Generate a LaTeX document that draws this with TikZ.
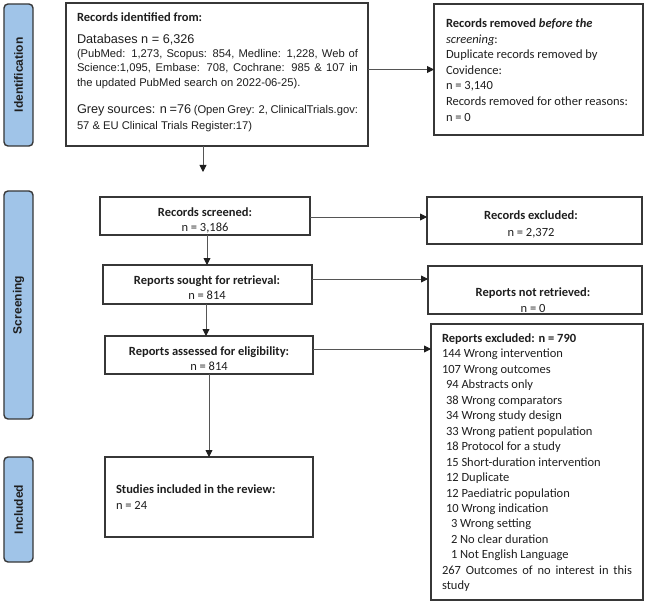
\documentclass[tikz,border=0pt]{standalone}
\usepackage{fontspec}
\setmainfont{Carlito}
\newfontfamily\arial{Liberation Sans}
\usetikzlibrary{arrows.meta}
\definecolor{tabblue}{RGB}{160,196,232}
\definecolor{edge}{RGB}{55,55,55}
\definecolor{conn}{RGB}{85,85,85}
\definecolor{ink}{RGB}{30,30,30}
\begin{document}
\begin{tikzpicture}[x=1bp,y=-1bp,
  box/.style={draw=edge, line width=1.5bp, inner sep=0pt, outer sep=0pt, anchor=north west},
  tab/.style={draw=edge, fill=tabblue, line width=1.4bp, rounded corners=4bp, rotate=90,
    minimum height=29bp, inner sep=0pt, outer sep=0pt, text=ink,
    font=\arial\bfseries\fontsize{12bp}{14bp}\selectfont},
  t/.style={inner sep=0pt, outer sep=0pt, text=ink, font=\fontsize{12.5bp}{15.5bp}\selectfont},
  tl/.style={t, anchor=base west},
  tc/.style={t, anchor=base},
  big/.style={font=\arial\fontsize{12.7bp}{15bp}\selectfont},
  small/.style={font=\arial\fontsize{11.2bp}{14bp}\selectfont},
  arr/.style={draw=conn, line width=0.9bp, -{Triangle[length=7bp,width=7bp,color=ink]}},
]
\useasboundingbox (0,0) rectangle (646,604);

% phase tabs
\node[tab, minimum width=142bp] (tabid) at (18.5,75) {Identification};
\node[tab, minimum width=228bp] (tabsc) at (18.5,305) {Screening};
\node[tab, minimum width=105bp] (tabin) at (18.5,509.5) {Included};

% boxes
\node[box, minimum width=302bp, minimum height=143bp] (idbox) at (66,3) {};
\node[box, minimum width=209bp, minimum height=131bp] (removed) at (434,4) {};
\node[box, minimum width=210bp, minimum height=38bp] (screened) at (100,197) {};
\node[box, minimum width=215bp, minimum height=47bp] (excl) at (427,197) {};
\node[box, minimum width=209bp, minimum height=39bp] (sought) at (103,265) {};
\node[box, minimum width=214bp, minimum height=48bp] (notret) at (428,266) {};
\node[box, minimum width=208bp, minimum height=38bp] (assessed) at (105,336) {};
\node[box, minimum width=212bp, minimum height=276bp] (repexcl) at (431,324) {};
\node[box, minimum width=208bp, minimum height=80bp] (included) at (105,457) {};

% identification text
\node[tl] (idh) at (77,22) {\bfseries Records identified from:};
\node[tl, big] (iddb) at (77,43.5) {Databases n = 6,326};
\node[tl, small] (idl1) at (77,57.5) {\makebox[281bp][s]{(PubMed: 1,273, Scopus: 854, Medline: 1,228, Web of}};
\node[tl, small] (idl2) at (77,72) {\makebox[281bp][s]{Science:1,095, Embase: 708, Cochrane: 985 \& 107 in}};
\node[tl, small] (idl3) at (77,86.5) {the updated PubMed search on 2022-06-25).};
\node[tl, small] (idg1) at (77,113.5) {\makebox[281bp][s]{{\fontsize{12.7bp}{15bp}\selectfont Grey sources: n =76} (Open Grey: 2, ClinicalTrials.gov:}};
\node[tl, small] (idg2) at (77,130) {57 \& EU Clinical Trials Register:17)};

% removed text
\foreach \s [count=\i] in {{\bfseries Records removed \itshape before the},{\itshape screening}:,Duplicate records removed by,Covidence:,n = 3{,}140,Records removed for other reasons:,n = 0}
  \node[tl] (rm\i) at (446,{27.5+15.6*(\i-1)}) {\s};

% centered box texts
\node[tc] (scr1) at (205,216.5) {\bfseries Records screened:};
\node[tc] (scr2) at (205,231.5) {n = 3,186};
\node[tc] (exc1) at (531,219.5) {\bfseries Records excluded:};
\node[tc] (exc2) at (531,236) {n = 2,372};
\node[tc] (sgt1) at (207,284.5) {\bfseries Reports sought for retrieval:};
\node[tc] (sgt2) at (207,299.5) {n = 814};
\node[tc] (nrt1) at (533,296) {\bfseries Reports not retrieved:};
\node[tc] (nrt2) at (533,312) {n = 0};
\node[tc] (asd1) at (209,355) {\bfseries Reports assessed for eligibility:};
\node[tc] (asd2) at (209,370) {n = 814};

% reports excluded list
\foreach \s [count=\i] in {{\bfseries Reports excluded: n = 790},
  144 Wrong intervention,107 Wrong outcomes,\hspace*{4bp}94 Abstracts only,
  \hspace*{4bp}38 Wrong comparators,\hspace*{4bp}34 Wrong study design,
  \hspace*{4bp}33 Wrong patient population,\hspace*{4bp}18 Protocol for a study,
  \hspace*{4bp}15 Short-duration intervention,\hspace*{4bp}12 Duplicate,
  \hspace*{4bp}12 Paediatric population,\hspace*{4bp}10 Wrong indication,
  \hspace*{9bp}3 Wrong setting,\hspace*{9bp}2 No clear duration,
  \hspace*{9bp}1 Not English Language,
  \makebox[190bp][s]{267 Outcomes of no interest in this},study}
  \node[tl] (rx\i) at (442,{342.5+15.45*(\i-1)}) {\s};

% included text
\node[tl] (inc1) at (116,493.5) {\bfseries Studies included in the review:};
\node[tl] (inc2) at (116,509.5) {n = 24};

% connectors
\coordinate (idend) at (203,172);
\draw[arr] (idbox.south -| idend) -- (idend);
\draw[arr] (idbox.east |- removed.west) -- (removed.west);
\draw[arr] ([yshift=-1bp]screened.east) -- ([yshift=-1bp]screened.east -| excl.west);
\draw[arr] ([yshift=5.5bp]sought.east) -- ([yshift=5.5bp]sought.east -| notret.west);
\draw[arr] ([yshift=6bp]assessed.east) -- ([yshift=6bp]assessed.east -| repexcl.west);
\draw[arr] ([xshift=2bp]screened.south) -- ([xshift=2bp]screened.south |- sought.north);
\draw[arr] ([xshift=-1.5bp]sought.south) -- ([xshift=-1.5bp]sought.south |- assessed.north);
\draw[arr] (assessed.south) -- (assessed.south |- included.north);
\end{tikzpicture}
\end{document}
